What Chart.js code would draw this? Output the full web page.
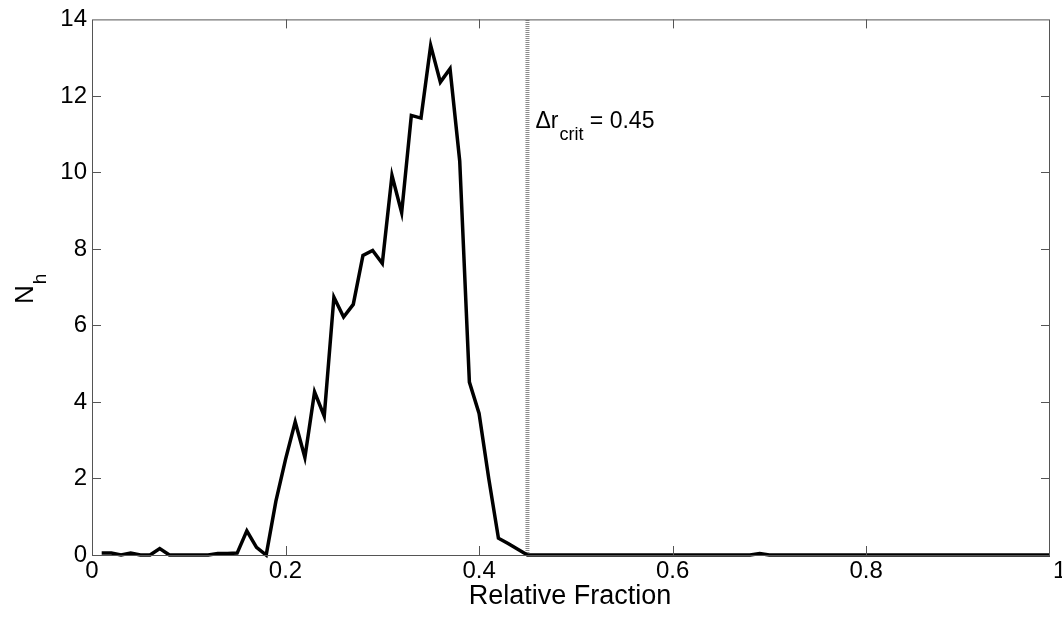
<!DOCTYPE html>
<html>
<head>
<meta charset="utf-8">
<title>Relative Fraction histogram</title>
<script src="https://cdn.jsdelivr.net/npm/chart.js@4/dist/chart.umd.min.js"></script>
<style>
  html, body { margin: 0; padding: 0; background: #fff; }
  #wrap { width: 1062px; height: 619px; position: relative; }
</style>
</head>
<body>
<div id="wrap"><canvas id="nhChart"></canvas></div>
<script>
// Data (bin centres every 0.01)
const fractions = [
  0.01, 0.02, 0.03, 0.04, 0.05, 0.06, 0.07, 0.08, 0.09, 0.10,
  0.11, 0.12, 0.13, 0.14, 0.15, 0.16, 0.17, 0.18, 0.19, 0.20,
  0.21, 0.22, 0.23, 0.24, 0.25, 0.26, 0.27, 0.28, 0.29, 0.30,
  0.31, 0.32, 0.33, 0.34, 0.35, 0.36, 0.37, 0.38, 0.39, 0.40,
  0.41, 0.42, 0.43, 0.44, 0.45, 0.46, 0.47, 0.48, 0.49, 0.50,
  0.51, 0.52, 0.53, 0.54, 0.55, 0.56, 0.57, 0.58, 0.59, 0.60,
  0.61, 0.62, 0.63, 0.64, 0.65, 0.66, 0.67, 0.68, 0.69, 0.70,
  0.71, 0.72, 0.73, 0.74, 0.75, 0.76, 0.77, 0.78, 0.79, 0.80,
  0.81, 0.82, 0.83, 0.84, 0.85, 0.86, 0.87, 0.88, 0.89, 0.90,
  0.91, 0.92, 0.93, 0.94, 0.95, 0.96, 0.97, 0.98, 0.99
];
const nh = [
  0.05, 0.05, 0.00, 0.05, 0.00, 0.00, 0.17, 0.00, 0.00, 0.00,
  0.00, 0.00, 0.04, 0.04, 0.05, 0.63, 0.20, 0.00, 1.40, 2.50,
  3.48, 2.55, 4.26, 3.63, 6.74, 6.22, 6.55, 7.83, 7.96, 7.62,
  9.92, 8.95, 11.49, 11.42, 13.32, 12.36, 12.71, 10.30, 4.52, 3.70,
  2.00, 0.44, 0.30, 0.15, 0.00, 0.00, 0.00, 0.00, 0.00, 0.00,
  0.00, 0.00, 0.00, 0.00, 0.00, 0.00, 0.00, 0.00, 0.00, 0.00,
  0.00, 0.00, 0.00, 0.00, 0.00, 0.00, 0.00, 0.00, 0.04, 0.00,
  0.00, 0.00, 0.00, 0.00, 0.00, 0.00, 0.00, 0.00, 0.00, 0.00,
  0.00, 0.00, 0.00, 0.00, 0.00, 0.00, 0.00, 0.00, 0.00, 0.00,
  0.00, 0.00, 0.00, 0.00, 0.00, 0.00, 0.00, 0.00, 0.00
];

// Critical value marker
const critX = 0.45;
const critYRange = [0, 14];

// Axis ticks
const xTicks = [0, 0.2, 0.4, 0.6, 0.8, 1];
const yTicks = [0, 2, 4, 6, 8, 10, 12, 14];
const xLimits = [0, 0.99];
const yLimits = [0, 14];

const FONT = "'Liberation Sans', Arial, Helvetica, sans-serif";
const AXIS_COLOR = "#555";

// Box + inward tick marks, like a matlab axes
const boxPlugin = {
  id: "boxAxes",
  afterDatasetsDraw(chart) {
    const { ctx, chartArea: a, scales } = chart;
    ctx.save();
    ctx.strokeStyle = AXIS_COLOR;
    ctx.lineWidth = 1;
    ctx.strokeRect(a.left + 0.5, a.top + 0.5, a.right - a.left - 1, a.bottom - a.top);
    const len = 9;
    ctx.beginPath();
    xTicks.forEach((v) => {
      if (v <= xLimits[0] || v >= xLimits[1]) return;
      const px = Math.round(scales.x.getPixelForValue(v)) + 0.5;
      ctx.moveTo(px, a.bottom); ctx.lineTo(px, a.bottom - len);
      ctx.moveTo(px, a.top); ctx.lineTo(px, a.top + len);
    });
    yTicks.forEach((v) => {
      if (v <= yLimits[0] || v >= yLimits[1]) return;
      const py = Math.round(scales.y.getPixelForValue(v)) + 0.5;
      ctx.moveTo(a.left, py); ctx.lineTo(a.left + len, py);
      ctx.moveTo(a.right, py); ctx.lineTo(a.right - len, py);
    });
    ctx.stroke();
    ctx.restore();
  }
};

// Axis titles and the annotation (need subscripts, so drawn by hand)
const textPlugin = {
  id: "labels",
  afterDraw(chart) {
    const { ctx, scales } = chart;
    ctx.save();
    ctx.fillStyle = "#000";
    ctx.textBaseline = "alphabetic";

    // x title
    ctx.font = `27px ${FONT}`;
    ctx.textAlign = "center";
    ctx.fillText("Relative Fraction", 570, 604);

    // y title: N_h rotated
    ctx.save();
    ctx.translate(33, 304);
    ctx.rotate(-Math.PI / 2);
    ctx.textAlign = "left";
    ctx.font = `26px ${FONT}`;
    ctx.fillText("N", 0, 0);
    const wN = ctx.measureText("N").width;
    ctx.font = `19px ${FONT}`;
    ctx.fillText("h", wN + 1, 13);
    ctx.restore();

    // annotation next to the critical line
    const ax = scales.x.getPixelForValue(critX) + 8;
    const ay = 128;
    ctx.textAlign = "left";
    ctx.font = `23px ${FONT}`;
    ctx.fillText("\u0394r", ax, ay);
    let w = ctx.measureText("\u0394r").width + 1;
    ctx.font = `18px ${FONT}`;
    ctx.fillText("crit", ax + w, ay + 12);
    w += ctx.measureText("crit").width;
    ctx.font = `23px ${FONT}`;
    ctx.fillText(" = 0.45", ax + w, ay);
    ctx.restore();
  }
};

const ctx = document.getElementById("nhChart").getContext("2d");
new Chart(ctx, {
  type: "line",
  data: {
    datasets: [
      {
        label: "Nh",
        data: fractions.map((x, i) => ({ x, y: nh[i] })),
        borderColor: "#000",
        borderWidth: 3.5,
        pointRadius: 0,
        tension: 0,
        clip: false
      },
      {
        label: "crit",
        data: critYRange.map((y) => ({ x: critX, y })),
        borderColor: "#8a8a8a",
        borderWidth: 4,
        borderDash: [1, 1],
        pointRadius: 0,
        clip: false
      }
    ]
  },
  options: {
    responsive: true,
    maintainAspectRatio: false,
    animation: false,
    layout: { padding: { top: 19, right: 12, left: 0, bottom: 0 } },
    plugins: { legend: { display: false }, tooltip: { enabled: false } },
    scales: {
      x: {
        type: "linear",
        min: xLimits[0],
        max: xLimits[1],
        border: { display: false },
        grid: { display: false, drawTicks: false },
        afterBuildTicks: (s) => { s.ticks = xTicks.map((v) => ({ value: v })); },
        afterFit: (s) => { s.height = 64; s.paddingLeft = 0; s.paddingRight = 0; },
        ticks: {
          color: "#000",
          padding: 2,
          maxRotation: 0,
          font: { family: FONT, size: 24 },
          callback: (v) => String(Number(v.toFixed(1)))
        }
      },
      y: {
        min: yLimits[0],
        max: yLimits[1],
        border: { display: false },
        grid: { display: false, drawTicks: false },
        afterBuildTicks: (s) => { s.ticks = yTicks.map((v) => ({ value: v })); },
        afterFit: (s) => { s.width = 92; },
        ticks: {
          color: "#000",
          padding: 5,
          font: { family: FONT, size: 24 }
        }
      }
    }
  },
  plugins: [boxPlugin, textPlugin]
});
</script>
</body>
</html>
